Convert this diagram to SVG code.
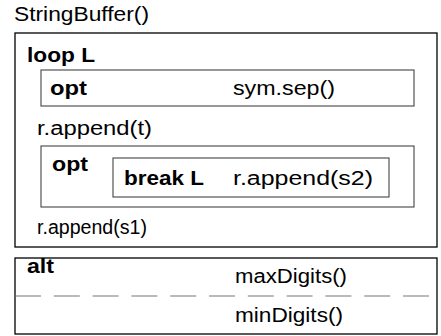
<svg xmlns="http://www.w3.org/2000/svg" width="441" height="336" viewBox="0 0 441 336">
<style>
text{font-family:"Liberation Sans",Arial,sans-serif;font-size:19.5px;fill:#000}
.b{font-weight:bold}
.outer{fill:none;stroke:#000;stroke-width:1.3}
.inner{fill:none;stroke:#444;stroke-width:1.1}
.div{stroke:#777;stroke-width:1.1;stroke-dasharray:26 12.8}
</style>
<rect width="441" height="336" fill="#fff"/>
<g id="stringbuffer">
<text x="14" y="21" textLength="135" lengthAdjust="spacingAndGlyphs">StringBuffer()</text>
</g>
<g id="loop">
<rect class="outer" x="15" y="33" width="422" height="214"/>
<text class="b" x="27" y="62" textLength="68" lengthAdjust="spacingAndGlyphs">loop L</text>
<text x="37" y="135" textLength="115" lengthAdjust="spacingAndGlyphs">r.append(t)</text>
<text x="37" y="234" textLength="110" lengthAdjust="spacingAndGlyphs">r.append(s1)</text>
</g>
<g id="opt1">
<rect class="inner" x="41" y="70" width="373" height="36"/>
<text class="b" x="50" y="95" textLength="37" lengthAdjust="spacingAndGlyphs">opt</text>
<text x="233" y="95" textLength="102" lengthAdjust="spacingAndGlyphs">sym.sep()</text>
</g>
<g id="opt2">
<rect class="inner" x="41" y="146" width="373" height="61"/>
<text class="b" x="52" y="171" textLength="36" lengthAdjust="spacingAndGlyphs">opt</text>
</g>
<g id="break">
<rect class="inner" x="113" y="158" width="276" height="39"/>
<text class="b" x="124" y="185" textLength="80" lengthAdjust="spacingAndGlyphs">break L</text>
<text x="233" y="185" textLength="140" lengthAdjust="spacingAndGlyphs">r.append(s2)</text>
</g>
<g id="alt">
<rect class="outer" x="15" y="258" width="422" height="76"/>
<text class="b" x="27" y="273" textLength="27" lengthAdjust="spacingAndGlyphs">alt</text>
<text x="235" y="283" textLength="112" lengthAdjust="spacingAndGlyphs">maxDigits()</text>
<line class="div" x1="15" y1="296" x2="437" y2="296"/>
<text x="235" y="322" textLength="108" lengthAdjust="spacingAndGlyphs">minDigits()</text>
</g>
<g id="connectors"></g>
</svg>
